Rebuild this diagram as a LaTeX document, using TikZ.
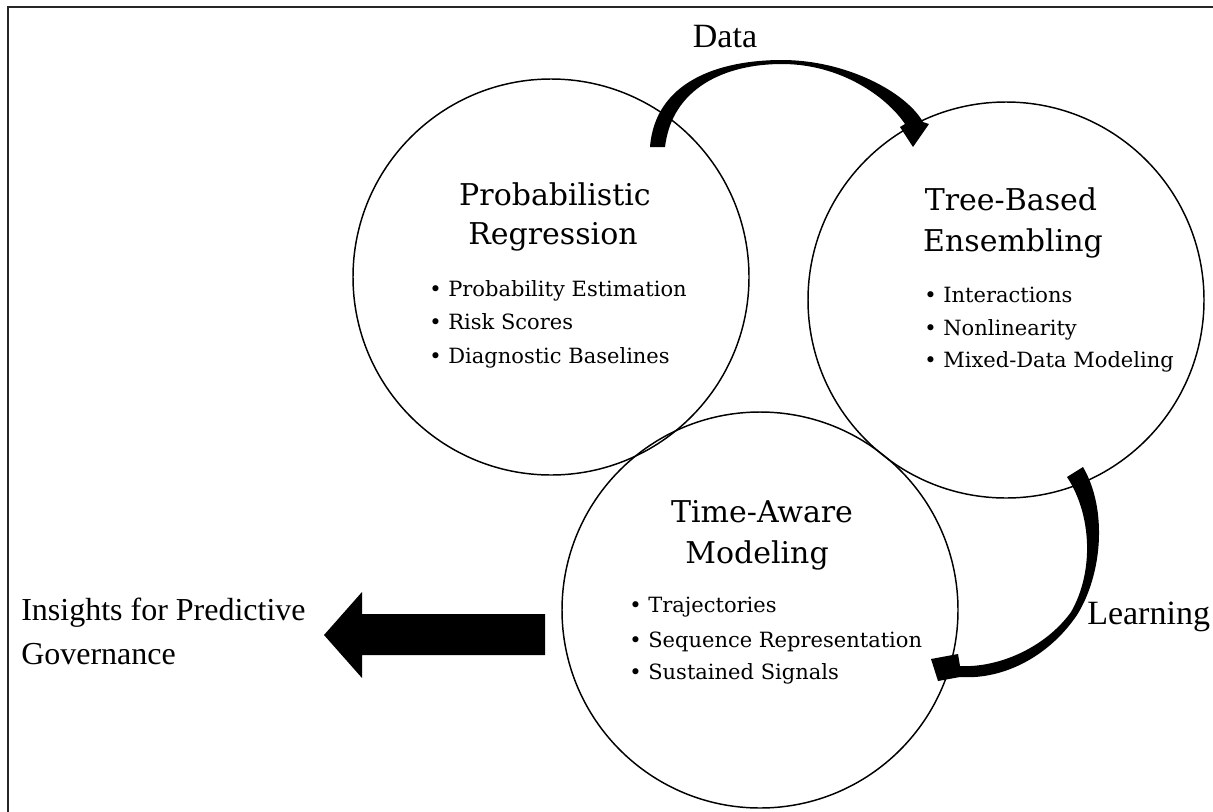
\documentclass[tikz,border=0pt]{standalone}
\usepackage{fontspec}
\setmainfont{DejaVu Serif}
\newfontfamily\tnr{Liberation Serif}
\begin{document}
\begin{tikzpicture}[x=0.75pt,y=-0.75pt,
  ring/.style={circle,draw=black,line width=1.1pt,minimum size=297pt,inner sep=0pt},
  head/.style={font=\fontsize{22.5pt}{27pt}\selectfont,anchor=base,inner sep=0pt},
  item/.style={font=\fontsize{15.75pt}{19pt}\selectfont,anchor=base west,inner sep=0pt},
  tag/.style={font=\tnr\fontsize{24pt}{29pt}\selectfont,inner sep=0pt},
  bigtag/.style={tag,font=\tnr\fontsize{25.5pt}{30pt}\selectfont},
  flow/.style={fill=black,draw=none},
]
\useasboundingbox (0,0) rectangle (1213,811);
\fill[white] (0,0) rectangle (1213,811);
% outer frame (only top and left edges fall inside the page)
\draw[line width=1.5pt,black!85] (8,830) -- (8,6.5) -- (1230,6.5);

% the three model families
\node[ring] (pr) at (551,277) {};
\node[ring] (tb) at (1006,300) {};
\node[ring] (ta) at (760,610) {};

% Probabilistic Regression
\node[head] (pr1) at (555,205) {Probabilistic};
\node[head] (pr2) at (553,244) {Regression};
\node[item] (pri1) at (429,296) {• Probability Estimation};
\node[item] (pri2) at (429,329.5) {• Risk Scores};
\node[item] (pri3) at (429,363) {• Diagnostic Baselines};

% Tree-Based Ensembling
\node[head] (tb1) at (1011,210) {Tree-Based};
\node[head] (tb2) at (1013,251) {Ensembling};
\node[item] (tbi1) at (924,302) {• Interactions};
\node[item] (tbi2) at (924,335) {• Nonlinearity};
\node[item] (tbi3) at (924,367) {• Mixed-Data Modeling};

% Time-Aware Modeling
\node[head] (ta1) at (762,522) {Time-Aware};
\node[head] (ta2) at (757,563) {Modeling};
\node[item] (tai1) at (629,612) {• Trajectories};
\node[item] (tai2) at (629,647) {• Sequence Representation};
\node[item] (tai3) at (629,679) {• Sustained Signals};

% Data: tapered curved arrow from regression to ensembling
\fill[flow] (650,147) .. controls (655,82) and (718,60) .. (782,60)
  .. controls (846,60) and (906,92) .. (923,122)
  -- (929,124) -- (913,147) -- (900,127) -- (905,124)
  .. controls (886,96) and (840,64) .. (782,64)
  .. controls (725,64) and (672,88) .. (665,147) -- cycle;
\node[bigtag,anchor=base] (data) at (725,47) {Data};

% Learning: tapered curved arrow from ensembling to time-aware modeling
\fill[flow] (1083,467) .. controls (1108,510) and (1102,575) .. (1077,615)
  .. controls (1050,655) and (1005,680) .. (960,677)
  -- (938,681) -- (931,659) -- (958,654) -- (960,666)
  .. controls (998,668) and (1045,648) .. (1071,612)
  .. controls (1094,572) and (1092,515) .. (1067,477) -- cycle;
\node[bigtag,anchor=base west] (learn) at (1087,624) {Learning};

% outcome block arrow
\fill[flow] (545,614) -- (362,614) -- (362,592) -- (324,635) -- (362,678)
  -- (362,655) -- (545,655) -- cycle;
\node[tag,anchor=base west] (ins1) at (21,620) {Insights for Predictive};
\node[tag,anchor=base west] (ins2) at (21,664) {Governance};
\end{tikzpicture}
\end{document}
